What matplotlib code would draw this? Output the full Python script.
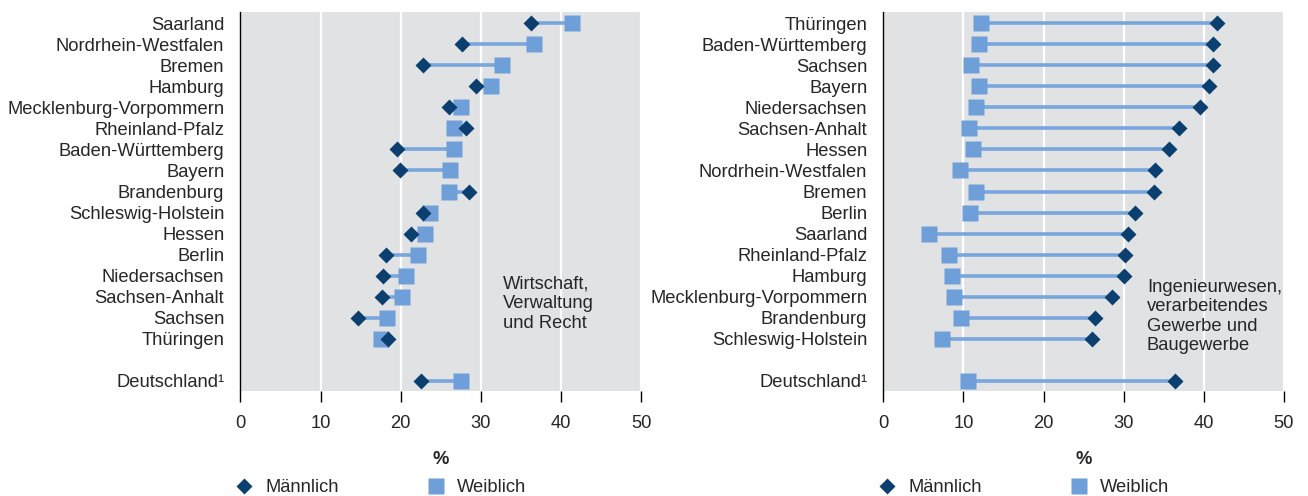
import matplotlib
matplotlib.use("Agg")
import matplotlib.pyplot as plt
from matplotlib.lines import Line2D

plt.rcParams["font.family"] = ["Liberation Sans", "DejaVu Sans"]

# left panel: Wirtschaft, Verwaltung und Recht (share in %)
LAND_L = ["Saarland", "Nordrhein-Westfalen", "Bremen", "Hamburg",
          "Mecklenburg-Vorpommern", "Rheinland-Pfalz", "Baden-Württemberg",
          "Bayern", "Brandenburg", "Schleswig-Holstein", "Hessen", "Berlin",
          "Niedersachsen", "Sachsen-Anhalt", "Sachsen", "Thüringen", "Deutschland¹"]
MALE_L = [36.3, 27.6, 22.8, 29.4, 26.0, 28.1, 19.6, 19.9, 28.5, 22.8, 21.3,
          18.2, 17.8, 17.7, 14.7, 18.4, 22.5]
FEMALE_L = [41.4, 36.6, 32.6, 31.2, 27.5, 26.6, 26.6, 26.1, 26.0, 23.7, 23.0,
            22.2, 20.7, 20.1, 18.3, 17.5, 27.5]

# right panel: Ingenieurwesen, verarbeitendes Gewerbe und Baugewerbe
LAND_R = ["Thüringen", "Baden-Württemberg", "Sachsen", "Bayern", "Niedersachsen",
          "Sachsen-Anhalt", "Hessen", "Nordrhein-Westfalen", "Bremen", "Berlin",
          "Saarland", "Rheinland-Pfalz", "Hamburg", "Mecklenburg-Vorpommern",
          "Brandenburg", "Schleswig-Holstein", "Deutschland¹"]
MALE_R = [41.7, 41.2, 41.1, 40.7, 39.6, 36.9, 35.7, 33.9, 33.8, 31.4, 30.6,
          30.2, 30.1, 28.5, 26.4, 26.1, 36.4]
FEMALE_R = [12.2, 11.9, 10.9, 11.9, 11.6, 10.7, 11.2, 9.6, 11.6, 10.8, 5.7,
            8.2, 8.6, 8.8, 9.7, 7.3, 10.6]

TITLES = ["Wirtschaft,\nVerwaltung\nund Recht",
          "Ingenieurwesen,\nverarbeitendes\nGewerbe und\nBaugewerbe"]

C_M = "#0b3f70"
C_F = "#6e9fd8"
C_LINE = "#79a6dc"
BG = "#e1e2e4"
TXT = "#262626"
FS = 13.2

# row positions: 16 Länder, one empty row, then Deutschland
ROWS = list(range(16)) + [17]

fig = plt.figure(figsize=(13.08, 4.96), dpi=100)
ax1 = fig.add_axes([240.3 / 1308, 105 / 496, 401 / 1308, 379 / 496])
ax2 = fig.add_axes([883.3 / 1308, 105 / 496, 400.5 / 1308, 379 / 496])


def panel(ax, lands, male, female, title, tx, ty):
    ax.set_facecolor(BG)
    for y, m, f in zip(ROWS, male, female):
        ax.plot([m, f], [y, y], color=C_LINE, lw=2.6, solid_capstyle="butt", zorder=2)
    ax.plot(female, ROWS, "s", ms=11.5, color=C_F, mec="none", zorder=3)
    ax.plot(male, ROWS, "D", ms=8.6, color=C_M, mec="none", zorder=4)
    ax.set_xlim(0, 50)
    ax.set_ylim(17.49, -0.54)
    ax.set_xticks(range(0, 51, 10))
    ax.set_yticks(ROWS)
    ax.set_yticklabels(lands)
    ax.tick_params(axis="y", length=0, pad=11.5, labelsize=FS, labelcolor=TXT)
    ax.tick_params(axis="x", length=8, width=1, color="black", direction="out",
                   pad=9, labelsize=FS, labelcolor=TXT)
    ax.grid(axis="x", color="white", lw=1.6)
    ax.set_axisbelow(True)
    for s in ("top", "right", "bottom"):
        ax.spines[s].set_visible(False)
    ax.spines["left"].set_color("black")
    ax.spines["left"].set_linewidth(1)
    ax.set_xlabel("%", fontsize=FS, fontweight="bold", color=TXT, labelpad=14)
    ax.text(tx, ty, title, fontsize=FS, color=TXT, ha="left", va="center",
            linespacing=1.2, zorder=5)
    handles = [Line2D([], [], ls="none", marker="D", ms=8.6, color=C_M, mec="none"),
               Line2D([], [], ls="none", marker="s", ms=11.5, color=C_F, mec="none")]
    ax.legend(handles, ["Männlich", "Weiblich"], ncol=2, frameon=False,
              loc="center left", bbox_to_anchor=(ax.get_position().x0 - 5 / 1308, 1 - 488 / 496),
              bbox_transform=fig.transFigure, borderpad=0, borderaxespad=0,
              handlelength=1.0, handletextpad=0.65, columnspacing=4.8,
              fontsize=FS, labelcolor=TXT)


panel(ax1, LAND_L, MALE_L, FEMALE_L, TITLES[0], 32.8, 13.35)
panel(ax2, LAND_R, MALE_R, FEMALE_R, TITLES[1], 32.9, 13.95)

fig.savefig("out.png", dpi=100)
